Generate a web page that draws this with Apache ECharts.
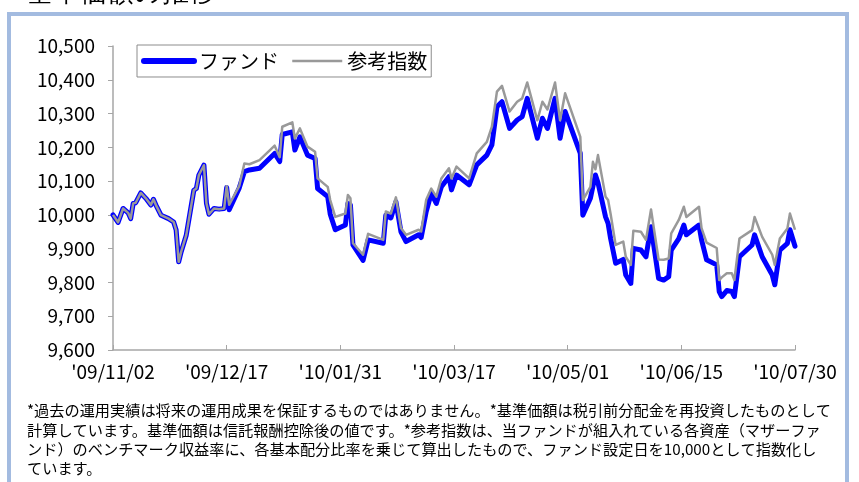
<!DOCTYPE html>
<html>
<head>
<meta charset="utf-8">
<script src="https://cdn.jsdelivr.net/npm/echarts@6/dist/echarts.min.js"></script>
<style>
html, body { margin: 0; padding: 0; background: #fff; }
#chart { width: 859px; height: 482px; }
</style>
</head>
<body>
<div id="chart"></div>
<script>
// days counted from 2009/11/02 (fund start)
var startDate = new Date(2009, 10, 2);
var days = [0, 2, 4, 6, 7, 8, 9, 11, 13, 15, 16, 17, 19, 22, 24, 25, 26, 27, 29, 32,
	33, 34, 36, 37, 38, 40, 42, 44, 45, 46, 50, 52, 54, 58, 64, 66, 67, 71, 72, 74,
	77, 80, 81, 85, 86, 88, 92, 93, 94, 95, 99, 101, 107, 108, 110, 112, 114, 116, 121, 122,
	124, 126, 128, 130, 133, 134, 136, 141, 144, 148, 150, 152, 154, 157, 160, 162, 164, 168, 170, 172,
	175, 177, 179, 185, 186, 189, 190, 191, 192, 195, 196, 197, 199, 202, 203, 205, 206, 209, 211, 213,
	216, 218, 220, 221, 224, 226, 227, 232, 233, 235, 239, 240, 241, 243, 245, 246, 248, 253, 254, 257,
	261, 262, 264, 267, 268, 270];
var fund = [10000, 9978, 10019, 10006, 9989, 10034, 10036, 10065, 10049, 10029, 10046, 10029, 9999, 9989, 9979, 9955, 9861, 9891, 9940, 10073,
	10078, 10118, 10147, 10034, 10002, 10019, 10017, 10019, 10081, 10015, 10080, 10128, 10133, 10138, 10182, 10158, 10238, 10246, 10192, 10231,
	10177, 10167, 10078, 10054, 10002, 9956, 9970, 10034, 10029, 9911, 9865, 9926, 9916, 9999, 9991, 10039, 9950, 9921, 9941, 9933,
	10010, 10064, 10034, 10083, 10113, 10074, 10118, 10089, 10148, 10177, 10207, 10320, 10335, 10256, 10281, 10291, 10345, 10227, 10286, 10256,
	10345, 10227, 10306, 10182, 9999, 10049, 10085, 10118, 10095, 9994, 9975, 9930, 9857, 9868, 9822, 9797, 9901, 9896, 9876, 9965,
	9812, 9807, 9817, 9896, 9930, 9970, 9941, 9970, 9926, 9867, 9852, 9773, 9758, 9776, 9773, 9758, 9876, 9911, 9941, 9876,
	9822, 9793, 9896, 9916, 9956, 9907];
var refIndex = [10000, 9978, 10019, 10006, 9989, 10034, 10036, 10065, 10049, 10029, 10046, 10029, 9999, 9989, 9979, 9955, 9861, 9891, 9940, 10073,
	10078, 10118, 10147, 10034, 10002, 10019, 10017, 10019, 10085, 10030, 10086, 10152, 10150, 10162, 10205, 10171, 10261, 10274, 10226, 10256,
	10202, 10187, 10108, 10083, 10044, 9994, 10004, 10059, 10049, 9916, 9882, 9944, 9926, 10010, 10004, 10052, 9961, 9941, 9956, 9951,
	10045, 10078, 10054, 10108, 10138, 10108, 10143, 10108, 10182, 10216, 10261, 10365, 10382, 10306, 10335, 10345, 10392, 10280, 10335, 10312,
	10392, 10280, 10360, 10231, 10044, 10083, 10157, 10135, 10177, 10054, 10044, 10003, 9911, 9921, 9876, 9852, 9953, 9950, 9926, 10016,
	9868, 9867, 9871, 9945, 9985, 10024, 9994, 10024, 9961, 9918, 9902, 9807, 9815, 9827, 9827, 9807, 9930, 9955, 9994, 9935,
	9882, 9852, 9930, 9960, 10004, 9956];
var seriesNames = ['ファンド', '参考指数'];
var note = [
	'*過去の運用実績は将来の運用成果を保証するものではありません。*基準価額は税引前分配金を再投資したものとして',
	'計算しています。基準価額は信託報酬控除後の値です。*参考指数は、当ファンドが組入れている各資産（マザーファ',
	'ンド）のベンチマーク収益率に、各基本配分比率を乗じて算出したもので、ファンド設定日を10,000として指数化し',
	'ています。'
];

function pad(n) {
	return (n < 10 ? '0' : '') + n;
}
function dayLabel(v) {
	var d = new Date(startDate.getTime());
	d.setDate(d.getDate() + v);
	return "'" + pad(d.getFullYear() % 100) + '/' + pad(d.getMonth() + 1) + '/' + pad(d.getDate());
}
function pairs(vals) {
	return days.map(function(d, i) {
		return [d, vals[i]];
	});
}

var font = '"Noto Sans CJK JP", sans-serif';
var myChart = echarts.init(document.getElementById('chart'));
var option = {
	animation: false,
	backgroundColor: '#fff',
	textStyle: { fontFamily: font },
	grid: {
		left: 113,
		right: 64,
		top: 46,
		bottom: 132
	},
	legend: {
		data: [{
			name: seriesNames[0],
			lineStyle: { color: '#0000ff', width: 6, cap: 'round' }
		}, {
			name: seriesNames[1],
			lineStyle: { color: '#999999', width: 2.5 }
		}],
		left: 137,
		top: 45,
		itemWidth: 50,
		itemHeight: 14,
		itemGap: 12,
		padding: [6, 4, 6, 4],
		borderColor: '#8c8c8c',
		borderWidth: 1,
		itemStyle: { opacity: 0 },
		textStyle: { fontSize: 20, color: '#000', fontFamily: font }
	},
	xAxis: {
		type: 'value',
		min: 0,
		max: 270,
		interval: 45,
		splitLine: { show: false },
		axisLine: { lineStyle: { color: '#a6a6a6', width: 1.5 } },
		axisTick: { inside: true, length: 5, lineStyle: { color: '#a6a6a6' } },
		axisLabel: {
			formatter: dayLabel,
			fontSize: 19,
			color: '#000',
			margin: 12,
			fontFamily: font
		}
	},
	yAxis: {
		type: 'value',
		min: 9600,
		max: 10500,
		interval: 100,
		splitLine: { show: false },
		axisLine: { show: true, lineStyle: { color: '#a6a6a6', width: 1.5 } },
		axisTick: { show: true, length: 5, lineStyle: { color: '#a6a6a6' } },
		axisLabel: {
			formatter: function(v) {
				return echarts.format.addCommas(v);
			},
			fontSize: 19,
			color: '#000',
			margin: 18,
			fontFamily: font
		}
	},
	series: [{
		name: seriesNames[0],
		type: 'line',
		symbol: 'none',
		data: pairs(fund),
		lineStyle: { color: '#0000ff', width: 5, cap: 'round', join: 'round' },
		itemStyle: { color: '#0000ff' }
	}, {
		name: seriesNames[1],
		type: 'line',
		symbol: 'none',
		data: pairs(refIndex),
		lineStyle: { color: '#999999', width: 2.5, join: 'round' },
		itemStyle: { color: '#999999' }
	}],
	graphic: [{
		type: 'rect',
		shape: { x: 9, y: 14, width: 838, height: 600 },
		style: { fill: null, stroke: '#a3bbe0', lineWidth: 4 }
	}, {
		type: 'text',
		left: 10,
		top: -20,
		style: { text: '■基準価額の推移', fontSize: 27, fill: '#000', font: '27px ' + font }
	}, {
		type: 'text',
		left: 27,
		top: 401,
		style: {
			text: note.join('\n'),
			fill: '#000',
			font: '15.2px ' + font,
			lineHeight: 19.3
		}
	}]
};
myChart.setOption(option);
</script>
</body>
</html>
